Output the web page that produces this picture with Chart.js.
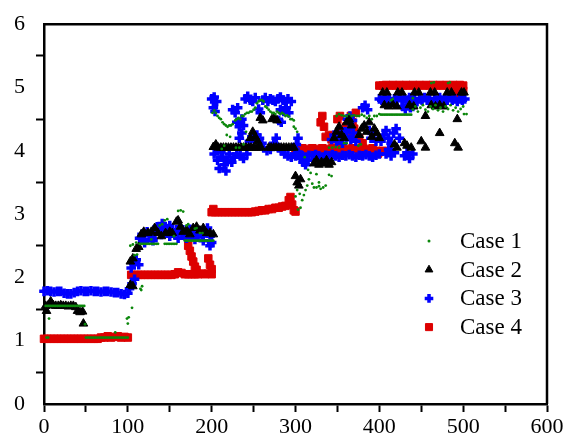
<!DOCTYPE html>
<html>
<head>
<meta charset="utf-8">
<script src="https://cdn.jsdelivr.net/npm/chart.js@4/dist/chart.umd.min.js"></script>
<style>
  html, body { margin: 0; padding: 0; background: #fff; }
  #wrap { width: 568px; height: 446px; }
</style>
</head>
<body>
<div id="wrap"><canvas id="grafico" width="568" height="446"></canvas></div>
<script>
// Datos: pares [x, y]
const seriesLabels = ['Case 1', 'Case 2', 'Case 3', 'Case 4'];
const xTickLabels = [0, 100, 200, 300, 400, 500, 600];
const yTickLabels = [0, 1, 2, 3, 4, 5, 6];

const case1 = [
  [2,1.55],[4,1.55],[6,1.55],[8,1.55],[10,1.55],[12,1.55],[14,1.55],[16,1.55],[18,1.55],[20,1.55],[22,1.55],[24,1.55],
  [26,1.55],[28,1.55],[30,1.55],[32,1.55],[34,1.55],[36,1.55],[38,1.55],[40,1.55],[42,1.55],[44,1.55],[46,1.55],[48,1.55],
  [6,1.35],[49,1.26],[3,1.05],[5,1.05],[85,1.13],[99,1.35],[101,1.37],[100,1.27],[105,1.52],[115,1.82],[117,1.86],[116,1.8],
  [50,1.05],[52,1.05],[54,1.05],[56,1.05],[58,1.05],[60,1.05],[62,1.05],[64,1.05],[66,1.05],[68,1.05],[70,1.05],[72,1.05],[74,1.05],
  [76,1.05],[78,1.05],[80,1.05],[82,1.05],[84,1.05],[86,1.05],[88,1.05],[90,1.05],[92,1.05],[94,1.05],[96,1.05],[98,1.05],[100,1.05],
  [103,2.5],[106,2.52],[110,2.55],[108,2.35],[111,2.36],
  [114,2.53],[116,2.53],[118,2.53],[120,2.53],[122,2.53],[124,2.53],[126,2.53],[128,2.53],[130,2.53],[132,2.53],[134,2.53],[136,2.53],
  [144,2.53],[146,2.53],[148,2.53],[150,2.53],[152,2.53],[154,2.53],[156,2.53],[158,2.53],
  [168,2.58],[170,2.58],[172,2.58],[174,2.58],[176,2.58],[178,2.58],[180,2.58],[182,2.58],[184,2.58],[186,2.58],[188,2.58],
  [190,2.58],[192,2.58],[194,2.58],[196,2.58],[198,2.58],[200,2.58],[202,2.58],
  [160,3.05],[163,3.06],[166,3.04],[144,2.9],[147,2.92],[138,2.82],[141,2.84],[170,2.82],[172,2.84],[180,2.77],[182,2.78],
  [186,2.7],[189,2.7],[155,2.65],[128,2.6],
  [201,4.6],[203,4.64],[205,4.6],[207,4.55],[209,4.52],[211,4.5],[213,4.45],[215,4.42],[217,4.4],[219,4.38],[221,4.4],[223,4.4],
  [225,4.42],[228,4.48],[230,4.5],[232,4.52],[234,4.5],[236,4.55],[238,4.55],[240,4.58],[242,4.6],[244,4.6],[246,4.62],[248,4.62],
  [250,4.65],[252,4.68],[254,4.75],[256,4.78],[258,4.8],[260,4.8],[262,4.78],[264,4.7],[266,4.68],[268,4.65],[270,4.62],[272,4.6],
  [274,4.6],[276,4.58],[278,4.62],[280,4.6],[282,4.58],[284,4.6],[286,4.58],[288,4.55],[290,4.56],[292,4.54],[294,4.5],[296,4.5],[298,4.48],
  [218,4.25],[222,4.22],[229,4.05],[233,4.05],[238,4.1],[212,4.03],[215,4.08],[241,4.3],[300,4.35],[302,4.3],[298,4.38],
  [303,3.07],[306,3.1],[308,3.22],[310,3.3],[312,3.38],[314,3.45],[316,3.55],[315,3.7],[318,3.65],[320,3.48],[322,3.42],[325,3.42],
  [328,3.44],[330,3.4],[333,3.42],[336,3.45],[340,3.62],[343,3.6],[300,3.28],[305,3.32],[302,3.38],[311,3.9],[325,3.63],[328,3.5],
  [340,4.05],[344,4.05],[348,4.06],[352,4.05],[358,4.12],[361,4.12],[375,4.08],[378,4.1],
  [349,4.55],[352,4.58],[355,4.56],[358,4.55],[361,4.55],[364,4.58],[367,4.55],[370,4.56],[373,4.55],[376,4.55],[379,4.57],
  [382,4.55],[385,4.52],[388,4.55],[391,4.5],[394,4.55],[397,4.55],[400,4.58],
  [402,4.57],[404,4.57],[406,4.57],[408,4.57],[410,4.57],[412,4.57],[414,4.57],[416,4.57],[418,4.57],[420,4.57],[422,4.57],
  [424,4.57],[426,4.57],[428,4.57],[430,4.57],[432,4.57],[434,4.57],[436,4.57],[438,4.57],
  [440,4.65],[443,4.7],[446,4.62],[449,4.68],[452,4.72],[455,4.65],[458,4.62],[461,4.7],[464,4.66],[467,4.72],[470,4.64],
  [473,4.68],[476,4.62],[479,4.7],[482,4.66],[485,4.72],[488,4.64],[491,4.68],[494,4.62],[497,4.66],[500,4.7],
  [462,5.07],[465,5.08],[482,5.07],[484,5.08],[414,4.8],[416,4.82],[440,4.83],[501,4.58],[504,4.58]
];

const case2 = [
  [3,1.47],[2,1.55],[5,1.56],[8,1.62],[11,1.56],[14,1.55],[17,1.55],[20,1.56],[23,1.55],[26,1.55],[29,1.54],[32,1.55],
  [35,1.55],[38,1.53],[40,1.47],[43,1.45],[46,1.46],[47,1.27],
  [103,1.88],[106,1.86],[103,2.25],[106,2.3],[110,2.45],[113,2.48],[116,2.68],[119,2.72],
  [124,2.7],[128,2.72],[132,2.78],[136,2.7],[140,2.65],[145,2.7],[150,2.72],[153,2.7],[158,2.88],[160,2.9],[163,2.8],
  [166,2.72],[170,2.75],[174,2.68],[178,2.78],[182,2.8],[186,2.74],[190,2.78],[194,2.7],[198,2.7],[202,2.68],
  [202,4.06],[205,4.1],[208,4.05],[211,4.05],[214,4.05],[217,4.05],[220,4.05],[223,4.05],[226,4.05],[229,4.05],[232,4.05],
  [235,4.05],[238,4.05],[241,4.05],[244,4.05],[247,4.05],[250,4.05],[253,4.05],[256,4.05],[259,4.05],[268,4.05],[271,4.05],
  [274,4.05],[277,4.05],[280,4.05],[283,4.05],[286,4.05],[289,4.05],[292,4.05],[295,4.05],[298,4.05],
  [246,4.2],[249,4.3],[252,4.22],[255,4.15],[258,4.52],[261,4.48],[272,4.5],[275,4.52],[278,4.48],
  [300,3.6],[302,3.5],[304,3.45],[306,3.55],[322,3.8],[325,3.85],[328,3.78],[331,3.82],[334,3.8],[337,3.85],[340,3.78],
  [343,3.82],[346,4.2],[349,4.3],[352,4.38],[355,4.25],[358,4.2],[361,4.45],[364,4.5],[367,4.4],[376,4.25],[379,4.35],
  [382,4.4],[385,4.3],[388,4.45],[391,4.22],[394,4.35],[397,4.28],[400,4.2],
  [404,4.92],[409,4.92],[422,4.92],[427,4.92],[442,4.92],[447,4.92],[461,4.92],[466,4.92],[481,4.92],[486,4.92],[498,4.92],[501,4.92],
  [406,4.72],[411,4.7],[416,4.73],[421,4.7],[436,4.72],[441,4.7],[462,4.72],[467,4.7],[472,4.72],[477,4.7],
  [418,4.1],[421,4.05],[430,4.12],[433,4.08],[438,4.05],[450,4.15],[455,4.05],[455,4.55],[472,4.28],[490,4.12],[494,4.05],[493,4.5]
];

const case3 = [
  [0,1.78],[4,1.79],[8,1.78],[12,1.77],[16,1.78],[20,1.78],[24,1.75],[28,1.74],[32,1.74],[36,1.76],[40,1.78],[44,1.79],
  [48,1.78],[52,1.78],[56,1.79],[60,1.78],[64,1.78],[68,1.77],[72,1.78],[76,1.78],[80,1.77],[84,1.76],[88,1.76],[92,1.74],
  [96,1.73],[100,1.75],
  [102,1.82],[105,1.9],[108,1.97],[104,2.15],[107,2.22],[110,2.28],[113,2.2],
  [114,2.62],[117,2.68],[120,2.6],[123,2.72],[126,2.66],[129,2.62],[132,2.7],[135,2.8],[138,2.74],[141,2.85],[144,2.78],
  [147,2.7],[150,2.82],[153,2.76],[156,2.68],[159,2.74],[162,2.8],[165,2.72],[168,2.66],[171,2.7],[174,2.76],[177,2.68],
  [180,2.72],[183,2.64],[186,2.7],[189,2.66],[192,2.72],[195,2.78],[198,2.65],[200,2.55],[120,2.55],[130,2.58],[140,2.68],
  [150,2.65],[160,2.62],[170,2.62],[180,2.6],[190,2.58],[198,2.5],
  [200,4.82],[203,4.85],[206,4.78],[202,4.68],[204,4.62],[225,4.65],[228,4.6],[231,4.68],[230,4.45],[233,4.38],[236,4.5],
  [238,4.4],[240,4.82],[243,4.86],[246,4.8],[249,4.78],[252,4.84],[256,4.66],[258,4.6],[261,4.8],[264,4.84],[267,4.78],
  [270,4.82],[273,4.8],[276,4.78],[279,4.82],[282,4.85],[285,4.8],[288,4.78],[291,4.82],[282,4.65],[286,4.62],[289,4.68],
  [292,4.6],[280,4.48],[283,4.45],[295,4.78],
  [203,3.95],[205,4.05],[207,3.85],[209,3.72],[211,3.98],[213,3.9],[215,3.78],[217,3.68],[219,3.85],[221,3.95],[224,3.82],
  [227,3.9],[230,3.95],[234,3.92],[238,3.88],[242,3.95],[245,4.15],[248,4.22],[251,4.18],[254,4.25],[257,4.2],[260,4.12],
  [262,4.05],[266,4.0],[270,4.02],[274,4.12],[277,4.2],[280,4.05],[283,4.0],[287,3.95],[291,3.92],[295,3.9],[299,3.95],
  [303,3.98],[306,3.88],[309,3.82],[312,3.78],[315,3.85],[233,4.2],[236,4.28],
  [300,3.92],[304,3.94],[308,3.92],[312,3.9],[316,3.93],[320,3.92],[324,3.94],[328,3.92],[332,3.9],[336,3.93],[340,3.92],
  [344,3.94],[348,3.92],[352,3.9],[356,3.93],[360,3.92],[364,3.94],[368,3.92],[372,3.9],[376,3.93],[380,3.92],[384,3.94],
  [388,3.92],[392,3.9],[396,3.93],[400,3.95],
  [301,4.1],[303,4.2],[343,4.18],[346,4.25],[349,4.15],[352,4.22],[356,4.12],[358,4.3],[361,4.22],[364,4.35],[366,4.18],
  [369,4.28],[372,4.15],[362,4.5],[365,4.55],[368,4.48],[380,4.68],[383,4.72],[386,4.65],[388,4.32],[390,4.2],[393,4.28],[396,4.15],
  [400,4.82],[403,4.8],[406,4.84],[409,4.8],[412,4.82],[415,4.78],[418,4.82],[421,4.8],[424,4.84],[427,4.8],[430,4.82],
  [433,4.8],[436,4.84],[439,4.8],[442,4.82],[445,4.78],[448,4.82],[451,4.8],[454,4.84],[457,4.8],[460,4.82],[463,4.78],
  [466,4.82],[469,4.8],[472,4.84],[475,4.8],[478,4.82],[481,4.8],[484,4.84],[487,4.8],[490,4.82],[493,4.78],[496,4.82],
  [499,4.8],[502,4.82],
  [402,4.15],[405,4.25],[408,4.32],[411,4.2],[414,4.12],[417,4.28],[420,4.35],[424,4.2],[428,4.7],[431,4.66],[434,4.72],
  [437,4.68],[440,4.7],[408,3.95],[411,4.02],[414,3.92],[418,3.97],[430,3.92],[433,3.97],[436,3.88],[440,3.95]
];

const case4 = [
  [0,1.03],[4,1.03],[8,1.03],[12,1.03],[16,1.03],[20,1.03],[24,1.03],[28,1.03],[32,1.03],[36,1.03],[40,1.03],[44,1.03],
  [48,1.03],[52,1.03],[56,1.03],[60,1.03],[64,1.03],[68,1.05],[72,1.05],[76,1.07],[80,1.05],[84,1.06],[88,1.07],[92,1.05],
  [96,1.06],[100,1.05],
  [104,2.04],[108,2.04],[112,2.04],[116,2.04],[120,2.04],[124,2.04],[128,2.04],[132,2.04],[136,2.04],[140,2.04],[144,2.04],
  [148,2.04],[152,2.04],[156,2.05],[160,2.08],[164,2.07],[168,2.05],[172,2.05],[176,2.05],[180,2.05],[184,2.05],[188,2.06],
  [192,2.05],[196,2.06],[200,2.05],
  [172,2.5],[174,2.42],[176,2.33],[178,2.25],[180,2.17],[182,2.12],[196,2.3],[198,2.2],[200,2.13],
  [200,3.03],[202,3.08],[204,3.03],[208,3.03],[212,3.03],[216,3.03],[220,3.03],[224,3.03],[228,3.03],[232,3.03],[236,3.03],
  [240,3.03],[244,3.03],[248,3.03],[252,3.04],[256,3.05],[260,3.06],[264,3.06],[268,3.08],[272,3.08],[276,3.1],[280,3.1],
  [284,3.12],[288,3.13],[292,3.22],[294,3.27],[296,3.15],[298,3.06],[300,3.04],
  [300,4.03],[304,4.0],[308,4.04],[312,4.03],[316,4.0],[320,4.04],[324,4.03],[328,4.0],[332,4.04],[336,4.03],[340,4.0],
  [344,4.04],[348,4.03],[352,4.0],[356,4.04],[360,4.03],[364,4.0],[368,4.04],[372,4.03],[376,4.0],[380,4.04],[384,4.03],
  [388,4.0],[392,4.04],[396,4.0],[400,3.98],[404,4.0],
  [330,4.45],[332,4.55],[334,4.38],[336,4.22],[340,4.25],[343,4.18],[350,4.5],[353,4.55],[356,4.3],[360,4.38],[363,4.25],
  [366,4.55],[368,4.45],[370,4.35],[372,4.6],[376,4.2],[380,4.12],[398,3.95],
  [400,5.03],[404,5.03],[408,5.04],[412,5.03],[416,5.04],[420,5.03],[424,5.04],[428,5.03],[432,5.04],[436,5.03],[440,5.04],
  [444,5.03],[448,5.04],[452,5.03],[456,5.04],[460,5.03],[464,5.04],[468,5.03],[472,5.04],[476,5.03],[480,5.04],[484,5.03],
  [488,5.04],[492,5.03],[496,5.04],[500,5.03],
  [492,4.92],[494,4.84],[496,4.96],[498,4.88],[500,4.95]
];

const SERIF = '"Liberation Serif", "Times New Roman", serif';
const aXY = pares => pares.map(p => ({ x: p[0], y: p[1] }));

// Leyenda dentro del area del grafico
const leyenda = {
  id: 'leyenda',
  afterDraw(chart) {
    const { ctx, chartArea } = chart;
    ctx.save();
    chart.data.datasets.forEach((ds, i) => {
      const y = 241 + i * 28.7;
      const x = chartArea.right - 118;
      ctx.fillStyle = ds.backgroundColor;
      ctx.strokeStyle = ds.borderColor;
      ctx.lineWidth = ds.borderWidth;
      Chart.helpers.drawPoint(ctx, {
        pointStyle: ds.pointStyle,
        radius: ds.legendRadius,
        borderWidth: ds.borderWidth,
        rotation: 0
      }, x, y);
      ctx.fillStyle = '#000';
      ctx.font = '23px ' + SERIF;
      ctx.textAlign = 'left';
      ctx.textBaseline = 'middle';
      ctx.fillText(ds.label, x + 31, y + 1);
    });
    ctx.restore();
  }
};

// Marco superior y derecho
const marco = {
  id: 'marco',
  afterDraw(chart) {
    const { ctx, chartArea: a } = chart;
    ctx.save();
    ctx.strokeStyle = '#000';
    ctx.lineWidth = 2.5;
    ctx.beginPath();
    ctx.moveTo(a.left, a.top);
    ctx.lineTo(a.right, a.top);
    ctx.lineTo(a.right, a.bottom);
    ctx.stroke();
    ctx.restore();
  }
};

new Chart(document.getElementById('grafico'), {
  type: 'scatter',
  data: {
    datasets: [
      { label: seriesLabels[0], data: aXY(case1), pointStyle: 'circle', pointRadius: 1.4, legendRadius: 1.5,
        backgroundColor: '#0b870b', borderColor: '#0b870b', borderWidth: 0, clip: 10 },
      { label: seriesLabels[1], data: aXY(case2), pointStyle: 'triangle', pointRadius: 5, legendRadius: 4.5,
        backgroundColor: '#000', borderColor: '#000', borderWidth: 1, clip: 10 },
      { label: seriesLabels[2], data: aXY(case3), pointStyle: 'cross', pointRadius: 4.8, legendRadius: 4.3,
        backgroundColor: '#0000ff', borderColor: '#0000ff', borderWidth: 3.5, clip: 10 },
      { label: seriesLabels[3], data: aXY(case4), pointStyle: 'rect', pointRadius: 5.3, legendRadius: 5,
        backgroundColor: '#dd0000', borderColor: '#dd0000', borderWidth: 1, clip: 10 }
    ]
  },
  options: {
    responsive: false,
    animation: false,
    events: [],
    layout: { padding: { top: 17, right: 21, left: 0, bottom: 0 } },
    plugins: {
      legend: { display: false },
      tooltip: { enabled: false }
    },
    scales: {
      x: {
        type: 'linear', min: 0, max: 600,
        afterFit: s => { s.height = 42; },
        border: { display: true, color: '#000', width: 2.5 },
        grid: { drawOnChartArea: false, drawTicks: true, tickLength: 8, tickColor: '#000', tickWidth: 2 },
        ticks: {
          stepSize: 50, autoSkip: false, maxRotation: 0, padding: 2, color: '#000',
          font: { family: SERIF, size: 22 },
          callback: v => xTickLabels.includes(v) ? String(v) : ''
        }
      },
      y: {
        type: 'linear', min: 0, max: 6,
        afterFit: s => { s.width = 44; },
        border: { display: true, color: '#000', width: 2.5 },
        grid: {
          drawOnChartArea: false, drawTicks: true, tickLength: 8, tickWidth: 2,
          tickColor: c => Number.isInteger(c.tick.value) ? 'rgba(0,0,0,0)' : '#000'
        },
        ticks: {
          stepSize: 0.5, autoSkip: false, padding: 11, color: '#000',
          font: { family: SERIF, size: 22 },
          callback: v => yTickLabels.includes(v) ? String(v) : ''
        }
      }
    }
  },
  plugins: [marco, leyenda]
});
</script>
</body>
</html>
